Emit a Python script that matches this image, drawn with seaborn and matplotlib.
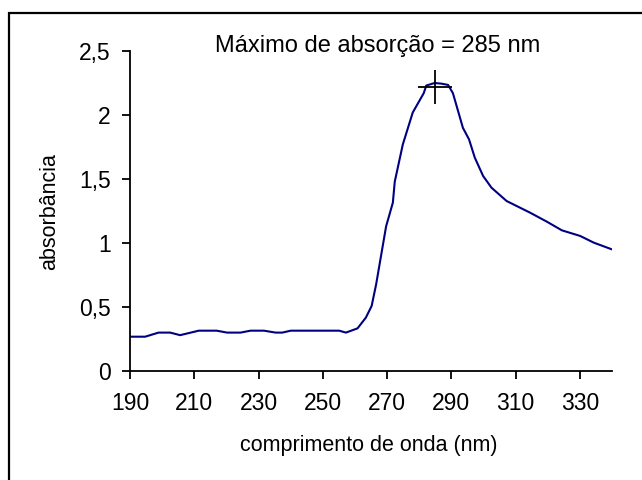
import matplotlib
matplotlib.use("Agg")
import matplotlib.pyplot as plt
import seaborn as sns
import pandas as pd
from matplotlib.patches import Rectangle

# UV absorption spectrum
wavelength_nm = [190, 194.7, 198.9, 202.5, 205.6, 211.4, 217, 220.2, 224.4, 227.5,
                 231.7, 235.3, 237.4, 240, 255.1, 257.2, 260.8, 263.4, 265.2, 266.6,
                 269.7, 271.8, 272.4, 274.9, 278, 281.4, 282.2, 284.8, 286.9, 289,
                 290.5, 293.6, 295.5, 297.3, 299.9, 302.5, 307.2, 314.5, 319.7, 324.4,
                 330.1, 334.3, 340]
absorbance = [0.268, 0.268, 0.30, 0.30, 0.28, 0.315, 0.315, 0.30, 0.30, 0.315,
              0.315, 0.30, 0.30, 0.315, 0.315, 0.30, 0.333, 0.417, 0.508, 0.677,
              1.13, 1.315, 1.48, 1.77, 2.02, 2.17, 2.23, 2.25, 2.245, 2.235,
              2.17, 1.90, 1.81, 1.667, 1.523, 1.432, 1.328, 1.237, 1.167, 1.099,
              1.055, 1.003, 0.95]

peak_nm = 285
peak_abs = 2.22

x_ticks = [190, 210, 230, 250, 270, 290, 310, 330]
y_ticks = [0, 0.5, 1, 1.5, 2, 2.5]
y_tick_labels = ["0", "0,5", "1", "1,5", "2", "2,5"]

title_text = "Máximo de absorção = 285 nm"
x_label = "comprimento de onda (nm)"
y_label = "absorbância"

sns.set_style("ticks")
plt.rcParams["font.family"] = ["Liberation Sans", "DejaVu Sans"]
plt.rcParams["text.color"] = "black"

fig = plt.figure(figsize=(6.42, 4.8), dpi=100)
ax = fig.add_axes([130 / 642, 1 - 371 / 480, (612 - 130) / 642, (371 - 51) / 480])

df = pd.DataFrame({"nm": wavelength_nm, "abs": absorbance})
sns.lineplot(data=df, x="nm", y="abs", ax=ax, color="#000080", linewidth=1.5,
             sort=False, estimator=None)

ax.plot([peak_nm], [peak_abs], marker="+", markersize=25, markeredgewidth=1.3,
        color="black", linestyle="none")

ax.set_xlim(190, 340)
ax.set_ylim(0, 2.5)
ax.set_xticks(x_ticks)
ax.set_xticklabels([str(t) for t in x_ticks])
ax.set_yticks(y_ticks)
ax.set_yticklabels(y_tick_labels)
ax.tick_params(axis="both", direction="out", length=6, width=1.3, colors="black",
               labelsize=16.5, pad=8)
ax.tick_params(axis="x", pad=9)

for side in ["top", "right"]:
    ax.spines[side].set_visible(False)
for side in ["left", "bottom"]:
    ax.spines[side].set_linewidth(1.3)
    ax.spines[side].set_color("black")

ax.set_xlabel("")
ax.set_ylabel("")
fig.text(369 / 642, 1 - 445 / 480, x_label, ha="center", va="center",
         fontsize=15.5, color="black")
fig.text(50 / 642, 1 - 212 / 480, y_label, ha="center", va="center",
         rotation=90, fontsize=15.5, color="black")
fig.text(378 / 642, 1 - 46 / 480, title_text, ha="center", va="center",
         fontsize=17, color="black")

# chart frame (left and top edges fall inside the canvas)
fig.patches.append(Rectangle((8.5 / 642, -0.1), 1.2, 1 - 13 / 480 + 0.1,
                             transform=fig.transFigure, fill=False,
                             edgecolor="black", linewidth=1.6))

fig.savefig("out.png", dpi=100, facecolor="white")
